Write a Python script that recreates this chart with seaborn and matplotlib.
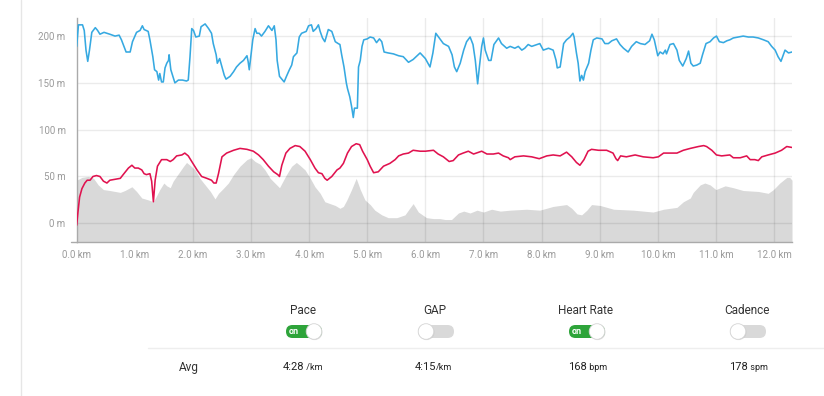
import matplotlib
matplotlib.use("Agg")
import matplotlib.pyplot as plt
from matplotlib.patches import FancyBboxPatch, Circle
import seaborn as sns

# pace line (drawn on the elevation scale), km / value
pace_km = [0.00, 0.03, 0.10, 0.13, 0.16, 0.19, 0.22, 0.26, 0.32, 0.36, 0.40, 0.47, 0.57, 0.66, 0.73, 0.77,
           0.85, 0.92, 0.96, 1.03, 1.09, 1.13, 1.16, 1.23, 1.26, 1.31, 1.34, 1.38, 1.41, 1.43, 1.46, 1.49,
           1.52, 1.55, 1.58, 1.59, 1.62, 1.65, 1.69, 1.75, 1.82, 1.89, 1.92, 1.95, 1.98, 2.01, 2.05, 2.11,
           2.14, 2.21, 2.27, 2.32, 2.35, 2.40, 2.42, 2.46, 2.50, 2.54, 2.57, 2.64, 2.70, 2.75, 2.81, 2.87,
           2.93, 2.95, 2.97, 3.00, 3.03, 3.07, 3.10, 3.14, 3.18, 3.24, 3.30, 3.36, 3.40, 3.43, 3.45, 3.49,
           3.53, 3.57, 3.61, 3.66, 3.70, 3.73, 3.79, 3.83, 3.87, 3.95, 3.99, 4.04, 4.07, 4.12, 4.16, 4.19,
           4.23, 4.27, 4.33, 4.39, 4.45, 4.50, 4.53, 4.56, 4.60, 4.64, 4.66, 4.70, 4.73, 4.76, 4.78, 4.81,
           4.83, 4.85, 4.88, 4.91, 4.94, 5.00, 5.05, 5.11, 5.16, 5.21, 5.25, 5.29, 5.36, 5.45, 5.54, 5.62,
           5.71, 5.79, 5.91, 6.00, 6.08, 6.13, 6.18, 6.24, 6.31, 6.40, 6.46, 6.50, 6.54, 6.60, 6.66, 6.71,
           6.77, 6.82, 6.86, 6.90, 6.93, 6.97, 7.00, 7.03, 7.09, 7.13, 7.18, 7.26, 7.31, 7.40, 7.46, 7.54,
           7.60, 7.66, 7.71, 7.77, 7.83, 7.92, 7.97, 8.03, 8.12, 8.20, 8.25, 8.27, 8.32, 8.38, 8.43, 8.49,
           8.54, 8.56, 8.60, 8.63, 8.66, 8.69, 8.72, 8.75, 8.81, 8.85, 8.89, 8.95, 9.04, 9.09, 9.15, 9.21,
           9.29, 9.35, 9.41, 9.49, 9.55, 9.63, 9.70, 9.78, 9.86, 9.90, 9.94, 10.00, 10.04, 10.09, 10.13,
           10.15, 10.21, 10.27, 10.33, 10.37, 10.43, 10.49, 10.53, 10.57, 10.61, 10.67, 10.73, 10.77,
           10.83, 10.90, 10.96, 11.01, 11.06, 11.13, 11.19, 11.24, 11.30, 11.39, 11.47, 11.56, 11.64,
           11.73, 11.82, 11.90, 11.96, 12.02, 12.07, 12.12, 12.16, 12.19, 12.25, 12.31]
pace_val = [189, 212, 212, 206, 185, 173, 185, 204, 209, 206, 202, 204, 202, 200, 201, 196,
            183, 183, 194, 204, 206, 211, 207, 205, 196, 178, 164, 162, 153, 160, 151, 151,
            166, 171, 174, 180, 164, 158, 150, 153, 153, 152, 153, 178, 208, 206, 199, 200,
            210, 213, 208, 203, 192, 180, 171, 176, 167, 158, 154, 157, 162, 167, 171, 174,
            179, 173, 164, 180, 196, 208, 203, 203, 200, 205, 211, 206, 211, 196, 174, 157,
            154, 151, 157, 164, 169, 178, 182, 199, 203, 205, 211, 212, 205, 208, 212, 205,
            198, 194, 207, 205, 194, 192, 191, 180, 167, 150, 144, 135, 125, 113, 123, 123,
            123, 167, 174, 189, 196, 197, 199, 198, 193, 197, 194, 183, 182, 181, 179, 178,
            172, 175, 182, 176, 167, 182, 203, 198, 192, 189, 180, 167, 162, 171, 185, 194,
            199, 191, 174, 149, 167, 189, 198, 185, 174, 174, 191, 198, 192, 187, 189, 187,
            189, 185, 187, 191, 189, 191, 192, 185, 187, 185, 174, 166, 167, 192, 196, 199,
            203, 199, 182, 171, 152, 158, 153, 162, 171, 185, 196, 198, 197, 192, 192, 195,
            197, 191, 187, 183, 189, 194, 192, 191, 195, 202, 196, 179, 183, 181, 185,
            181, 191, 192, 185, 174, 168, 176, 184, 171, 168, 169, 171, 180,
            192, 194, 198, 200, 194, 193, 195, 196, 198, 199, 200, 199, 199,
            198, 196, 194, 189, 185, 178, 173, 180, 185, 182, 183]

# heart rate line
hr_km = [0.00, 0.02, 0.05, 0.09, 0.14, 0.18, 0.23, 0.28, 0.34, 0.40, 0.46, 0.52, 0.57, 0.66, 0.75, 0.80,
         0.89, 0.95, 1.00, 1.06, 1.12, 1.16, 1.20, 1.26, 1.29, 1.32, 1.35, 1.39, 1.46, 1.55, 1.61, 1.66,
         1.72, 1.81, 1.86, 1.92, 1.98, 2.07, 2.15, 2.24, 2.32, 2.36, 2.40, 2.44, 2.50, 2.58, 2.70, 2.81,
         2.93, 3.04, 3.13, 3.21, 3.30, 3.39, 3.46, 3.49, 3.53, 3.60, 3.67, 3.76, 3.84, 3.93, 4.02, 4.10,
         4.16, 4.22, 4.27, 4.31, 4.39, 4.48, 4.53, 4.59, 4.66, 4.73, 4.81, 4.87, 4.92, 5.00, 5.05, 5.11,
         5.19, 5.28, 5.39, 5.48, 5.54, 5.62, 5.71, 5.79, 5.91, 6.00, 6.14, 6.22, 6.31, 6.41, 6.48, 6.57,
         6.65, 6.74, 6.83, 6.97, 7.06, 7.17, 7.26, 7.34, 7.43, 7.46, 7.54, 7.69, 7.83, 7.96, 8.09, 8.20,
         8.32, 8.43, 8.52, 8.60, 8.66, 8.73, 8.80, 8.86, 8.98, 9.12, 9.23, 9.28, 9.31, 9.36, 9.46, 9.61,
         9.75, 9.92, 10.01, 10.10, 10.21, 10.33, 10.44, 10.56, 10.70, 10.79, 10.84, 10.93, 11.01, 11.10,
         11.24, 11.30, 11.42, 11.53, 11.59, 11.67, 11.73, 11.79, 11.90, 12.02, 12.13, 12.22, 12.31]
hr_val = [-2, 11, 28, 37, 43, 46, 46, 50, 51, 50, 45, 43, 46, 47, 48, 52,
          59, 62, 59, 59, 57, 53, 52, 53, 45, 23, 46, 61, 68, 68, 66, 68,
          72, 73, 75, 72, 66, 57, 50, 48, 46, 43, 43, 53, 71, 75, 78, 80,
          79, 77, 73, 68, 61, 55, 52, 50, 62, 75, 80, 83, 82, 77, 68, 59,
          54, 53, 48, 46, 50, 57, 59, 64, 75, 82, 85, 84, 77, 68, 61, 54,
          55, 61, 64, 68, 72, 74, 75, 78, 77, 77, 78, 74, 71, 66, 67, 73,
          75, 77, 74, 77, 74, 74, 75, 72, 70, 68, 71, 72, 71, 69, 72, 73,
          72, 76, 71, 65, 62, 68, 77, 79, 78, 78, 75, 69, 67, 72, 71, 73,
          71, 70, 71, 75, 75, 75, 78, 80, 82, 83, 82, 78, 73, 72,
          73, 70, 70, 72, 68, 68, 67, 71, 73, 75, 78, 82, 81]

# elevation profile
elev_km = [0.00, 0.09, 0.20, 0.29, 0.37, 0.46, 0.57, 0.75, 0.83, 0.95, 1.03, 1.12, 1.23, 1.32, 1.38, 1.43,
           1.50, 1.55, 1.61, 1.66, 1.75, 1.84, 1.89, 1.95, 2.04, 2.12, 2.21, 2.30, 2.38, 2.44, 2.52, 2.61,
           2.70, 2.81, 2.93, 3.00, 3.07, 3.16, 3.24, 3.33, 3.41, 3.49, 3.55, 3.61, 3.70, 3.78, 3.84, 3.93,
           4.02, 4.10, 4.19, 4.27, 4.36, 4.45, 4.53, 4.59, 4.65, 4.73, 4.81, 4.88, 4.96, 5.05, 5.13, 5.25,
           5.36, 5.51, 5.65, 5.73, 5.79, 5.88, 6.02, 6.14, 6.25, 6.34, 6.45, 6.57, 6.66, 6.77, 6.89, 7.00,
           7.14, 7.29, 7.46, 7.74, 7.97, 8.20, 8.43, 8.52, 8.61, 8.69, 8.78, 8.86, 9.01, 9.24, 9.58, 9.92,
           10.10, 10.33, 10.44, 10.56, 10.61, 10.73, 10.81, 10.90, 11.00, 11.16, 11.30, 11.47, 11.73,
           11.90, 11.99, 12.10, 12.22, 12.27, 12.31]
elev_m = [46, 49, 50, 48, 41, 36, 35, 33, 35, 39, 34, 27, 25, 23, 30, 36,
          43, 40, 38, 45, 53, 61, 65, 62, 57, 48, 41, 34, 26, 32, 37, 43,
          52, 61, 68, 70, 66, 63, 57, 48, 43, 38, 45, 52, 61, 65, 62, 57,
          48, 39, 32, 23, 21, 19, 16, 18, 25, 36, 48, 36, 25, 20, 14, 9,
          6, 6, 9, 16, 21, 12, 6, 5, 5, 4, 4, 11, 13, 11, 14, 12,
          15, 13, 14, 15, 14, 18, 20, 16, 10, 9, 14, 20, 19, 15, 14, 12,
          15, 17, 23, 27, 33, 41, 43, 41, 36, 40, 38, 35, 34,
          32, 36, 43, 49, 49, 46]

km_ticks = list(range(0, 13))
m_ticks = [0, 50, 100, 150, 200]

toggle_names = ["Pace", "GAP", "Heart Rate", "Cadence"]
toggle_on = [True, False, True, False]
avg_values = ["4:28", "4:15", "168", "178"]
avg_units = [" /km", "/km", " bpm", " spm"]

sns.set_style("white")
plt.rcParams["font.family"] = ["Roboto", "DejaVu Sans"]

fig = plt.figure(figsize=(8.24, 3.96), dpi=100)
ax = fig.add_axes([76.7 / 824, 1 - 242 / 396, (792 - 76.7) / 824, (242 - 18.3) / 396])

ax.fill_between(elev_km, elev_m, -20, color="#d9d9d9", linewidth=0, zorder=1)
for k in km_ticks[2:]:
    ax.axvline(k, color="black", alpha=0.08, linewidth=1, zorder=2)
for m in m_ticks:
    ax.axhline(m, color="black", alpha=0.08, linewidth=1, zorder=2)

sns.lineplot(x=pace_km, y=pace_val, ax=ax, color="#36a9e1", linewidth=1.15, zorder=3)
sns.lineplot(x=hr_km, y=hr_val, ax=ax, color="#e0124f", linewidth=1.15, zorder=3)

ax.set_xlim(0, 12.31)
ax.set_ylim(-20, 219)
ax.set_xticks(km_ticks)
ax.set_xticklabels([f"{k:.1f} km" for k in km_ticks])
ax.set_yticks(m_ticks)
ax.set_yticklabels([f"{m} m" for m in m_ticks])
ax.set_xticks([0, 12.31], minor=True)
ax.tick_params(axis="both", which="major", length=0, labelsize=7, labelcolor="#9a9a9a")
ax.tick_params(axis="x", which="major", pad=6)
ax.tick_params(axis="y", which="major", pad=8)
ax.tick_params(axis="x", which="minor", length=4, color="#aaaaaa", width=1)
for s in ["top", "right"]:
    ax.spines[s].set_visible(False)
for s in ["left", "bottom"]:
    ax.spines[s].set_color("#aaaaaa")
    ax.spines[s].set_linewidth(1)
ax.grid(False)

# overlay in pixel units for the controls below the chart
ov = fig.add_axes([0, 0, 1, 1])
ov.set_xlim(0, 824)
ov.set_ylim(396, 0)
ov.axis("off")
ov.plot([21, 21], [0, 396], color="#e6e6e6", linewidth=1)
ov.plot([148, 824], [348, 348], color="#eeeeee", linewidth=1)
ov.plot([71, 77], [242, 242], color="#aaaaaa", linewidth=1)

centers = [304, 436, 587, 748]
for cx, name, on, val, unit in zip(centers, toggle_names, toggle_on, avg_values, avg_units):
    ov.text(cx - 1, 310, name, ha="center", va="center", fontsize=8.5, color="#333333")
    track = FancyBboxPatch((cx - 18, 325), 36, 13, boxstyle="round,pad=0,rounding_size=6.5",
                           facecolor="#2ea43a" if on else "#d9d9d9", edgecolor="none")
    ov.add_patch(track)
    kx = cx + 10 if on else cx - 10
    ov.add_patch(Circle((kx + 0.6, 332.3), 7.8, facecolor="#bbbbbb", edgecolor="none", alpha=0.5, zorder=2))
    ov.add_patch(Circle((kx, 331.5), 7.8, facecolor="white", edgecolor="#d5d5d5", linewidth=0.6, zorder=3))
    if on:
        ov.text(cx - 10, 331, "on", ha="center", va="center", fontsize=6.5, color="white", fontweight="bold")
    ov.text(cx, 367, val, ha="right", va="center", fontsize=8, color="#222222")
    ov.text(cx, 367.5, unit, ha="left", va="center", fontsize=6.5, color="#222222")

ov.text(189, 367, "Avg", ha="center", va="center", fontsize=8.5, color="#333333")

fig.savefig("out.png", dpi=100)
